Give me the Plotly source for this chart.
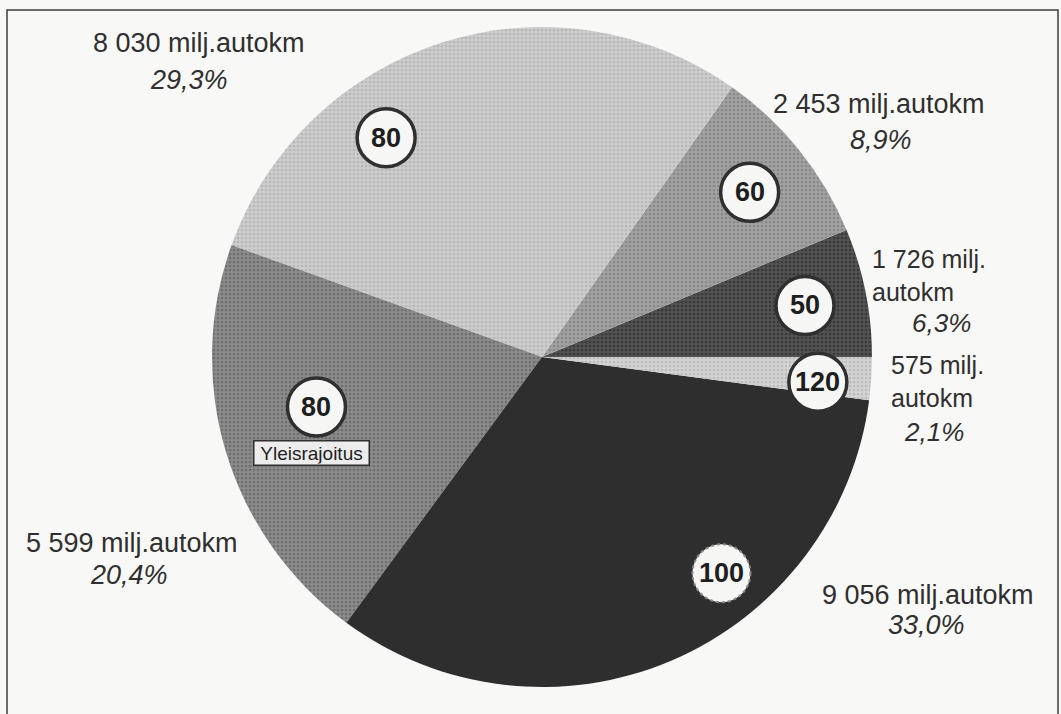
import math
import plotly.graph_objects as go

# speed-limit classes, listed counter-clockwise starting at 3 o'clock
limits = ["50", "60", "80", "80", "100", "120"]
autokm = [1726, 2453, 8030, 5599, 9056, 575]          # milj. autokm
shares = ["6,3%", "8,9%", "29,3%", "20,4%", "33,0%", "2,1%"]
general_limit_note = "Yleisrajoitus"                  # shown under the 4th badge

# halftone-ish greys of the scanned original
fills = ["#555555", "#a4a4a4", "#d0d0d0", "#8e8e8e", "#2e2e2e", "#d6d6d6"]
dots = ["#3a3a3a", "#8a8a8a", "#b8b8b8", "#707070", "#2e2e2e", "#bdbdbd"]

W, H = 1061, 714
CX, CY, R = 542, 357, 330
INK = "#2f2f2f"
FONT = "Liberation Sans, Arial, sans-serif"

# badge placement: fraction along each slice's arc, and distance from centre (px)
badge_frac = [0.49, 0.49, 0.67, 0.44, 0.64, 0.31]
badge_rad = [268, 265, 269, 231, 281, 277]
BADGE_D = 58

total = sum(autokm)
bx, by = [], []
start = 0.0
for v, f, r in zip(autokm, badge_frac, badge_rad):
    span = 360.0 * v / total
    a = math.radians(start + f * span)
    bx.append(CX + r * math.cos(a))
    by.append(CY - r * math.sin(a))
    start += span


def px(x):
    return x / W


def py(y):
    return 1 - y / H


fig = go.Figure()

# plotly puts the first counter-clockwise slice *before* the rotation mark,
# so shift it to make the 50 slice start at 3 o'clock
fig.add_trace(go.Pie(
    values=autokm, labels=[f"{l} km/h ({i})" for i, l in enumerate(limits)],
    sort=False, direction="counterclockwise", rotation=90 - 360.0 * autokm[0] / total,
    textinfo="none", hoverinfo="skip", showlegend=False,
    marker=dict(colors=fills, line=dict(width=0),
                pattern=dict(shape=["." if c != "#2e2e2e" else "" for c in fills],
                             fgcolor=dots, bgcolor=fills, size=4, solidity=0.45,
                             fillmode="replace")),
    domain=dict(x=[px(CX - R), px(CX + R)], y=[py(CY + R), py(CY - R)]),
))

shapes = [dict(type="rect", xref="paper", yref="paper",
               x0=px(7), y0=py(H + 20), x1=px(1058), y1=py(10),
               line=dict(color="#3c3c3c", width=1.5), layer="below")]

# round speed-limit badges
for i, (x, y) in enumerate(zip(bx, by)):
    soft = limits[i] == "100"
    shapes.append(dict(
        type="circle", xref="paper", yref="paper", layer="above",
        x0=px(x - BADGE_D / 2), x1=px(x + BADGE_D / 2),
        y0=py(y + BADGE_D / 2), y1=py(y - BADGE_D / 2),
        fillcolor="#f6f6f4",
        line=dict(color="#8a8a8a" if soft else INK, width=2 if soft else 3.5,
                  dash="dot" if soft else "solid"),
    ))
    fig.add_annotation(
        x=px(x), y=py(y), xref="paper", yref="paper", text=limits[i], showarrow=False,
        xanchor="center", yanchor="middle",
        font=dict(family=FONT, size=27, color="#1e1e1e", weight="bold"),
    )


def fmt(v):
    return f"{v:,}".replace(",", " ")


# outside labels: (text, x, y, italic, align, size)
labels = [
    (f"{fmt(autokm[2])} milj.autokm", 199, 43, False, "center", 27),
    (shares[2], 189, 80, True, "center", 27),
    (f"{fmt(autokm[1])} milj.autokm", 879, 104, False, "center", 27),
    (shares[1], 881, 140, True, "center", 27),
    (f"{fmt(autokm[0])} milj.<br>autokm", 870, 276, False, "left", 25),
    (shares[0], 941, 323, True, "center", 26),
    (f"{fmt(autokm[5])} milj.<br>autokm", 889, 381, False, "left", 25),
    (shares[5], 934, 432, True, "center", 26),
    (f"{fmt(autokm[4])} milj.autokm", 928, 595, False, "center", 27),
    (shares[4], 926, 625, True, "center", 27),
    (f"{fmt(autokm[3])} milj.autokm", 132, 543, False, "center", 27),
    (shares[3], 129, 575, True, "center", 27),
]
for txt, x, y, it, al, sz in labels:
    fig.add_annotation(
        x=px(x), y=py(y), xref="paper", yref="paper", text=txt, showarrow=False,
        xanchor="left" if al == "left" else "center", yanchor="middle", align=al,
        font=dict(family=FONT, size=sz, color=INK, style="italic" if it else "normal"),
    )

# little box under the general-limit badge
fig.add_annotation(
    x=px(bx[3] - 5), y=py(by[3] + 46), xref="paper", yref="paper", text=general_limit_note,
    showarrow=False, xanchor="center", yanchor="middle",
    font=dict(family=FONT, size=19, color="#1e1e1e"),
    bgcolor="#ececec", bordercolor=INK, borderwidth=1.5, borderpad=1, width=112,
)

fig.update_layout(
    width=W, height=H, autosize=False,
    margin=dict(l=0, r=0, t=0, b=0),
    paper_bgcolor="#f8f8f6", plot_bgcolor="rgba(0,0,0,0)",
    shapes=shapes,
)

# drop the browser's default 8px body margin so the figure sits at the window corner
fig.write_html("out.html", config={"displayModeBar": False},
               post_script="document.body.style.margin='0';")
